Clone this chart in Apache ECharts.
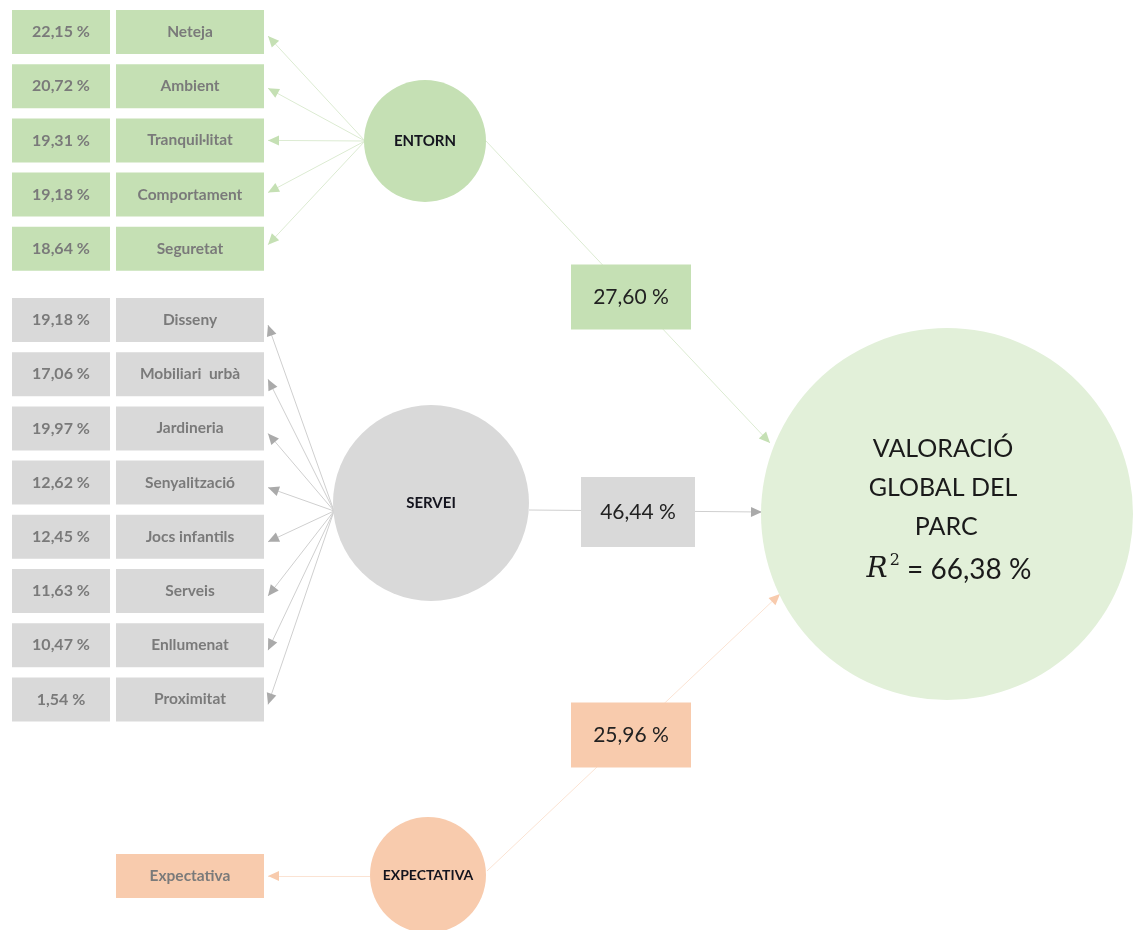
<!DOCTYPE html>
<html>
<head>
<meta charset="utf-8">
<style>
  html, body { margin: 0; padding: 0; background: #fff; }
  #main { width: 1133px; height: 930px; }
</style>
<script src="https://cdn.jsdelivr.net/npm/echarts@6/dist/echarts.min.js"></script>
</head>
<body>
<div id="main"></div>
<script>
// indicators and their weights (%)
var entornItems = ['Neteja', 'Ambient', 'Tranquil·litat', 'Comportament', 'Seguretat'];
var entornWeights = [22.15, 20.72, 19.31, 19.18, 18.64];
var serveiItems = ['Disseny', 'Mobiliari  urbà', 'Jardineria', 'Senyalització', 'Jocs infantils', 'Serveis', 'Enllumenat', 'Proximitat'];
var serveiWeights = [19.18, 17.06, 19.97, 12.62, 12.45, 11.63, 10.47, 1.54];
var expectativaItems = ['Expectativa'];
// latent constructs and path coefficients (%)
var constructs = ['ENTORN', 'SERVEI', 'EXPECTATIVA'];
var pathCoefs = [27.60, 46.44, 25.96];
var r2 = 66.38;

function pct(v) { return v.toFixed(2).replace('.', ',') + ' %'; }

var GREEN = '#c5e0b4', GREY = '#d9d9d9', PEACH = '#f8cbad', BIG = '#e2f0d9';
var FONT = 'Lato, "Open Sans", sans-serif';

// layout
var rowH = 54.2, boxH = 44;
var pctX = 61, pctW = 98, labX = 190, labW = 148;
var entornY0 = 32, serveiY0 = 320, expY = 876;
var circles = [
  { name: constructs[0], x: 425, y: 141, r: 61, fill: GREEN, line: '#dcebd2', arrow: GREEN, fs: 15 },
  { name: constructs[1], x: 431, y: 503, r: 98, fill: GREY, line: '#cfcfcf', arrow: '#aaaaaa', fs: 15 },
  { name: constructs[2], x: 428, y: 875, r: 58, fill: PEACH, line: '#fbe3d3', arrow: PEACH, fs: 14 }
];
var target = { x: 947, y: 514, r: 186 };
var pathBoxes = [
  { x: 631, y: 297, w: 120, h: 65 },
  { x: 638, y: 512, w: 114, h: 70 },
  { x: 631, y: 735, w: 120, h: 65 }
];
var pathStarts = [[486, 141], [529, 510], [487, 871]];
var pathEnds = [[770, 443], [762, 512], [780, 594]];

var boxes = [];
var arrows = [];
function addGroup(items, weights, y0, c, origin) {
  items.forEach(function (name, i) {
    var y = y0 + i * rowH;
    if (weights) {
      boxes.push({ x: pctX, y: y, w: pctW, h: boxH, fill: c.fill, text: pct(weights[i]), size: 16, color: '#7a7a7a', bold: true });
    }
    boxes.push({ x: labX, y: y, w: labW, h: boxH, fill: c.fill, text: name, size: 15.5, color: '#7a7a7a', bold: true });
    var tipY = items.length > 1 ? y + (c === circles[1] ? 5 : 4 - i * 2) : y;
    arrows.push({ from: origin, to: [labX + labW / 2 + 4, tipY], line: c.line, arrow: c.arrow });
  });
}
addGroup(entornItems, entornWeights, entornY0, circles[0], [365, 141]);
addGroup(serveiItems, serveiWeights, serveiY0, circles[1], [334, 511]);
addGroup(expectativaItems, null, expY, circles[2], [370, 876]);

pathBoxes.forEach(function (b, i) {
  var c = circles[i];
  boxes.push({ x: b.x, y: b.y, w: b.w, h: b.h, fill: c.fill, text: pct(pathCoefs[i]), size: 21, color: '#222', bold: false });
  arrows.push({ from: pathStarts[i], to: pathEnds[i], line: c.line, arrow: c.arrow });
});

var chart = echarts.init(document.getElementById('main'));
chart.setOption({
  animation: false,
  grid: { left: 0, right: 0, top: 0, bottom: 0 },
  xAxis: { type: 'value', min: 0, max: 1133, show: false },
  yAxis: { type: 'value', min: 0, max: 930, inverse: true, show: false },
  series: [
    {
      type: 'lines',
      coordinateSystem: 'cartesian2d',
      symbol: 'none',
      z: 1,
      data: arrows.map(function (a) {
        return { coords: [a.from, a.to], lineStyle: { color: a.line, width: 1, opacity: 1 } };
      })
    },
    {
      // arrow heads
      type: 'custom',
      coordinateSystem: 'cartesian2d',
      z: 2,
      data: arrows.map(function (a, i) { return [a.to[0], a.to[1], i]; }),
      renderItem: function (params, api) {
        var a = arrows[params.dataIndex];
        var p1 = api.coord(a.from), p2 = api.coord(a.to);
        var ang = Math.atan2(p2[1] - p1[1], p2[0] - p1[0]);
        var L = 11, W = 5;
        var bx = p2[0] - L * Math.cos(ang), by = p2[1] - L * Math.sin(ang);
        var nx = -Math.sin(ang) * W, ny = Math.cos(ang) * W;
        return {
          type: 'polygon',
          shape: { points: [p2, [bx + nx, by + ny], [bx - nx, by - ny]] },
          style: { fill: a.arrow }
        };
      }
    },
    {
      type: 'custom',
      coordinateSystem: 'cartesian2d',
      z: 3,
      data: circles.map(function (c, i) { return [c.x, c.y, i]; }).concat([[target.x, target.y, 3]]),
      renderItem: function (params, api) {
        var i = params.dataIndex;
        var p = api.coord([api.value(0), api.value(1)]);
        if (i < 3) {
          var c = circles[i];
          var r = api.size([c.r, 0])[0];
          return {
            type: 'circle',
            shape: { cx: p[0], cy: p[1], r: r },
            style: { fill: c.fill },
            textContent: {
              style: { text: c.name, font: 'bold ' + c.fs + 'px ' + FONT, fill: '#14141e' }
            },
            textConfig: { position: 'inside' }
          };
        }
        var R = api.size([target.r, 0])[0];
        return {
          type: 'group',
          children: [
            { type: 'circle', shape: { cx: p[0], cy: p[1], r: R }, style: { fill: BIG } },
            {
              type: 'text',
              x: p[0] - 4, y: p[1] - 26,
              style: {
                text: 'VALORACIÓ\nGLOBAL DEL\n PARC',
                fill: '#1a1a1a',
                font: '25px ' + FONT,
                align: 'center', verticalAlign: 'middle',
                lineHeight: 39
              }
            },
            {
              type: 'text',
              x: p[0] + 2, y: p[1] + 56,
              style: {
                text: '{r|R}{s|2}{t| = ' + pct(r2) + '}',
                align: 'center', verticalAlign: 'middle',
                rich: {
                  r: { font: 'italic 28px "DejaVu Serif", serif', fill: '#1a1a1a' },
                  s: { font: '16px "DejaVu Serif", serif', fill: '#1a1a1a', verticalAlign: 'top', padding: [0, 0, 18, 2] },
                  t: { font: '28px ' + FONT, fill: '#1a1a1a' }
                }
              }
            }
          ]
        };
      }
    },
    {
      type: 'custom',
      coordinateSystem: 'cartesian2d',
      z: 4,
      data: boxes.map(function (b, i) { return [b.x, b.y, i]; }),
      renderItem: function (params, api) {
        var b = boxes[params.dataIndex];
        var p = api.coord([api.value(0), api.value(1)]);
        var s = api.size([b.w, b.h]);
        return {
          type: 'rect',
          shape: { x: p[0] - s[0] / 2, y: p[1] - s[1] / 2, width: s[0], height: s[1] },
          style: { fill: b.fill },
          textContent: {
            style: { text: b.text, font: (b.bold ? 'bold ' : '') + b.size + 'px ' + FONT, fill: b.color }
          },
          textConfig: { position: 'inside' }
        };
      }
    }
  ]
});
</script>
</body>
</html>
